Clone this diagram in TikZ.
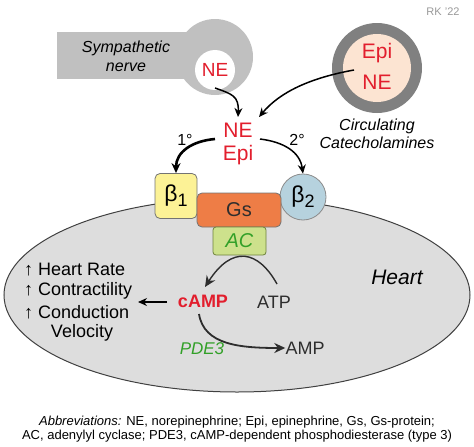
\documentclass[tikz,border=0pt]{standalone}
\usepackage{fontspec}
\setmainfont{Liberation Sans}
\usetikzlibrary{arrows.meta,shapes.geometric}
\definecolor{nervegray}{RGB}{192,192,192}
\definecolor{ringgray}{RGB}{128,128,128}
\definecolor{peach}{RGB}{252,228,210}
\definecolor{epired}{RGB}{226,30,45}
\definecolor{byellow}{RGB}{252,242,150}
\definecolor{gsorange}{RGB}{238,125,70}
\definecolor{bblue}{RGB}{182,210,222}
\definecolor{acgreen}{RGB}{205,225,140}
\definecolor{acborder}{RGB}{110,130,60}
\definecolor{actext}{RGB}{50,160,40}
\definecolor{heartfill}{RGB}{221,221,221}
\definecolor{darktext}{RGB}{45,45,45}
\newcommand{\fs}[1]{\fontsize{#1}{#1}\selectfont}
\tikzset{
  lbl/.style={inner sep=0pt, align=center},
  redtxt/.style={lbl, text=epired},
  arr/.style={-{Stealth[length=9pt,width=8pt]}, line width=1.6pt},
  darr/.style={-{Stealth[length=11pt,width=10pt]}, line width=1.6pt, draw=darktext},
  rbox/.style={rounded corners=5pt, draw=black!55, line width=0.8pt},
}
\begin{document}
\begin{tikzpicture}[x=1pt,y=-1pt]
\useasboundingbox (0,0) rectangle (474,447);
% heart
\node[draw=black!75, line width=1pt, fill=heartfill, ellipse, minimum width=466pt, minimum height=194pt, inner sep=0pt] (heart) at (237,295) {};
% sympathetic nerve
\fill[nervegray] (57,32) rectangle (200,79);
\fill[nervegray] (215,57) circle (38);
\node[circle, fill=white, minimum size=40pt, inner sep=0pt] (nec) at (215,70) {};
\node[redtxt, font=\fs{19}] (ne1) at (215,70) {NE};
\node[lbl, font=\fs{16}\itshape] (symp) at (126,56) {Sympathetic\\[3pt]nerve};
% circulating
\node[circle, fill=ringgray, minimum size=90pt, inner sep=0pt] (circ) at (377,68) {};
\node[circle, fill=peach, minimum size=68pt, inner sep=0pt] (circin) at (377,68) {};
\node[redtxt, font=\fs{21}] (epi2) at (377,53) {Epi};
\node[redtxt, font=\fs{21}] (ne2) at (377,82) {NE};
\node[lbl, font=\fs{16}\itshape] (cclab) at (377,134) {Circulating\\[2pt]Catecholamines};
\node[lbl, font=\fs{11}, text=black!40] (rk) at (443,12) {RK '22};
% central NE Epi
\node[redtxt, font=\fs{21}] (nec2) at (238,130) {NE};
\node[redtxt, font=\fs{21}] (epic) at (238,155) {Epi};
\coordinate (ctop) at (238,117);
\coordinate (ctopr) at (259,117);
\draw[arr, line width=1.5pt] (215,88) .. controls (232,94) and (239,96) .. (ctop);
\draw[arr, line width=1.5pt] (354,70) .. controls (310,78) and (280,92) .. (ctopr);
% receptors
\node[rbox, fill=byellow, minimum width=42pt, minimum height=45pt, inner sep=0pt] (b1) at (176,196) {};
\node[lbl, font=\fs{23}] at (b1) {β\raisebox{-0.35ex}{\fs{18}1}};
\node[circle, draw=black!45, line width=0.8pt, fill=bblue, minimum size=46pt, inner sep=0pt] (b2) at (303,197) {};
\node[lbl, font=\fs{23}] at (b2) {β\raisebox{-0.35ex}{\fs{18}2}};
\node[rbox, fill=gsorange, minimum width=84pt, minimum height=34pt, inner sep=0pt] (gs) at (239,210) {};
\node[lbl, font=\fs{20}, text=darktext] at (gs) {Gs};
\node[rbox, rounded corners=3pt, draw=acborder, fill=acgreen, minimum width=53pt, minimum height=28pt, inner sep=0pt] (ac) at (239.5,241) {};
\node[lbl, font=\fs{20}\itshape, text=actext] at (ac) {AC};
% 1 and 2 arrows
\node[lbl, font=\fs{16}] (one) at (185,140) {1°};
\node[lbl, font=\fs{16}] (two) at (297,140) {2°};
\draw[-{Stealth[length=10pt,width=9pt]}, line width=2.6pt] (215,139) .. controls (192,141) and (176,152) .. (b1.north);
\draw[arr, line width=1.5pt] (260,139) .. controls (284,142) and (300,152) .. (b2.north);
% inside heart
\node[lbl, anchor=west, font=\fs{18}] (hr) at (24,270) {↑ Heart Rate};
\node[lbl, anchor=west, font=\fs{18}] (ct) at (24,291) {↑ Contractility};
\node[lbl, anchor=west, font=\fs{18}] (cd) at (24,312) {↑ Conduction};
\node[lbl, font=\fs{18}] (vel) at (82,333) {Velocity};
\node[lbl, font=\fs{18}\bfseries, text=epired] (camp) at (203,301) {cAMP};
\node[lbl, font=\fs{18}, text=darktext] (atp) at (274,302) {ATP};
\node[lbl, font=\fs{18}, text=darktext] (amp) at (305,348) {AMP};
\node[lbl, font=\fs{17}\itshape, text=actext] (pde) at (202,349) {PDE3};
\node[lbl, font=\fs{21}\itshape] (hearttxt) at (397,277) {Heart};
\coordinate (cw) at (167,302);
\coordinate (effects) at (138,302);
\coordinate (atpn) at (277,284);
\coordinate (campn) at (205,287);
\coordinate (camps) at (199,314);
\draw[-{Stealth[length=9pt,width=8pt]}, line width=1.3pt] (cw) -- (effects);
\draw[darr, line width=1.4pt] (atpn) .. controls (258,250) and (232,245) .. (campn);
\draw[darr, line width=1.8pt] (camps) .. controls (204,345) and (240,348) .. (amp.west);
% abbreviations
\node[lbl, font=\fs{13}] (abbr) at (237,429.5) {\textit{Abbreviations:} NE, norepinephrine; Epi, epinephrine, Gs, Gs-protein;\\[1pt]AC, adenylyl cyclase; PDE3, cAMP-dependent phosphodiesterase (type 3)};
\end{tikzpicture}
\end{document}
